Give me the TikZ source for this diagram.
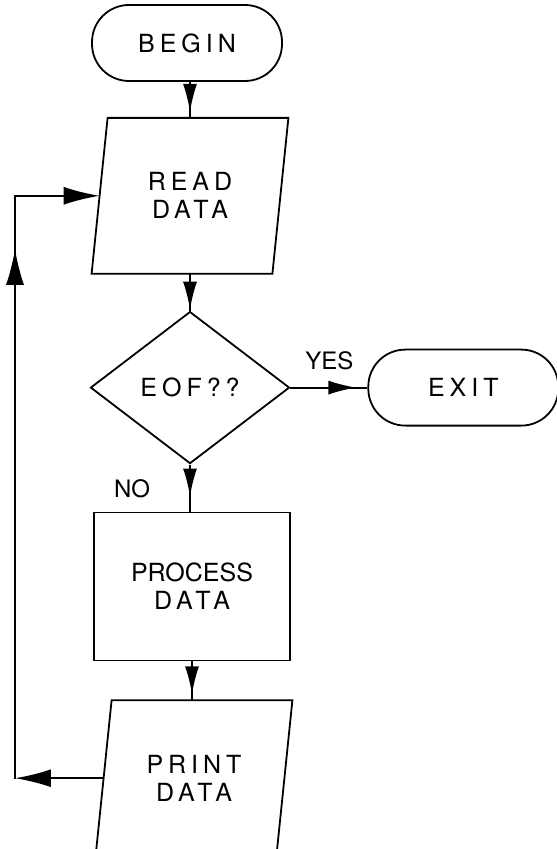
\documentclass[tikz,border=0pt]{standalone}
\usepackage{fontspec}
\setmainfont{TeX Gyre Heros}
\newfontfamily\wide[LetterSpace=20]{TeX Gyre Heros}
\usepackage{tikz}
\usetikzlibrary{positioning,arrows.meta,shapes.geometric,decorations.markings}
\newcommand{\boxfont}{\wide\fontsize{12.5}{14}\selectfont}

\begin{document}
\begin{tikzpicture}[
line width=0.9pt,
term/.style={rectangle,rounded corners=18.5pt,draw,minimum width=95pt,minimum height=38pt,font=\boxfont},
io/.style={rectangle,align=center,minimum width=89.5pt,minimum height=77pt,font=\boxfont,
  append after command={\pgfextra{\draw ([xshift=4pt]\tikzlastnode.north west) -- ([xshift=4pt]\tikzlastnode.north east)
    -- ([xshift=-4pt]\tikzlastnode.south east) -- ([xshift=-4pt]\tikzlastnode.south west) -- cycle;}}},
proc/.style={rectangle,draw,align=center,minimum width=98pt,minimum height=74pt,font=\boxfont},
decision/.style={diamond,aspect=1.3,draw,minimum width=99.5pt,minimum height=76pt,inner sep=1pt,font=\boxfont},
lbl/.style={inner sep=0pt,font=\fontsize{12}{14}\selectfont},
arrow/.style={postaction={decorate},decoration={markings,mark=at position -#1 with {\arrow{Latex[length=14pt,width=7pt]}}}},
arrow/.default=3pt,
tip/.style={-{Latex[length=18pt,width=9pt]}}
]
\useasboundingbox (-93.5pt,-403pt) rectangle (184.5pt,21.5pt);
\node[term] (begin) {BEGIN};
\node[io,below=18pt of begin,xshift=1.5pt] (read) {READ\\DATA};
\node[decision,below=18.5pt of read] (eof) {EOF??};
\node[term,right=38.5pt of eof] (exit) {EXIT};
\node[proc,below=23.5pt of eof,xshift=1pt] (process) {{\rmfamily PROCESS}\\DATA};
\node[io,below=19.5pt of process,xshift=1pt] (print) {PRINT\\DATA};
\node[lbl,above right=8.5pt and 7pt of eof.east] (yes) {YES};
\node[lbl,below left=7pt and 19.5pt of eof.south] (no) {NO};
% loop back
\coordinate (rail) at (-86pt,0);
\coordinate (lb) at (rail |- print.west);
\coordinate (lt) at (rail |- read.west);
\draw[arrow] (begin.south -| read) -- (read);
\draw[arrow=0.5pt] (read) -- (eof);
\draw[arrow=5.5pt] (eof) -- (exit);
\draw[arrow=7.5pt] (eof.south) -- (process.north -| eof.south);
\draw[arrow] (process) -- (process.south |- print.north);
\draw[tip] (print.west) -- (lb);
\draw[line cap=rect,postaction={decorate},decoration={markings,mark=at position -26.5pt with {\arrow{Latex[length=18pt,width=9pt]}}}] (lb) -- (lt);
\draw[tip] (lt) -- (read.west);
\end{tikzpicture}
\end{document}
